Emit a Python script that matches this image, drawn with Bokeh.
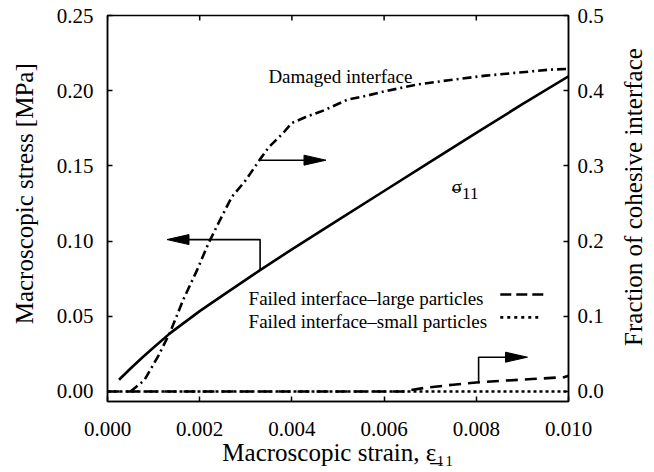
import math
from bokeh.plotting import figure
from bokeh.layouts import row
from bokeh.models import Range1d, LinearAxis, FixedTicker, PrintfTickFormatter
from bokeh.core.properties import value
from bokeh.embed import file_html
from bokeh.resources import INLINE

FONT = "Liberation Serif"

# ---------------- data ----------------
strain_ticks = [0.0, 0.002, 0.004, 0.006, 0.008, 0.010]
stress_ticks = [0.0, 0.05, 0.10, 0.15, 0.20, 0.25]
fraction_ticks = [0.0, 0.1, 0.2, 0.3, 0.4, 0.5]

sigma_strain = [0.00025, 0.0005, 0.00075, 0.0010, 0.00136, 0.0020, 0.0025, 0.00331,
                0.0040, 0.0050, 0.0060, 0.0070, 0.0080, 0.0090, 0.0100]
sigma_stress = [0.0078, 0.0153, 0.0224, 0.0292, 0.0388, 0.0534, 0.0639, 0.0807,
                0.0945, 0.1139, 0.1333, 0.1527, 0.1720, 0.1910, 0.2095]

damaged_strain = [0.0005, 0.0008, 0.0011, 0.00136, 0.00165, 0.00194, 0.00219, 0.00244,
                  0.0027, 0.0030, 0.0033, 0.0035, 0.0038, 0.0040, 0.0043, 0.0047, 0.0052,
                  0.0056, 0.0060, 0.0067, 0.0074, 0.0082, 0.0089, 0.0096, 0.0100]
damaged_fraction = [0.0, 0.015, 0.047, 0.079, 0.123, 0.161, 0.197, 0.228,
                    0.259, 0.281, 0.308, 0.325, 0.343, 0.357, 0.365, 0.374, 0.388,
                    0.393, 0.399, 0.408, 0.414, 0.420, 0.424, 0.428, 0.429]

large_strain = [0.0, 0.0064, 0.0069, 0.0075, 0.0080, 0.0085, 0.0092, 0.0099, 0.0100]
large_fraction = [0.0, 0.0, 0.005, 0.009, 0.012, 0.014, 0.0165, 0.019, 0.021]

small_strain = [0.0, 0.0100]
small_fraction = [0.0, 0.0]

x_title = "Macroscopic strain, \u03b5\u0332\u2081\u2081"
y_title = "Macroscopic stress [MPa]"
y2_title = "Fraction of cohesive interface"

TITLE_SIZE = "25px"

# ---------------- main figure ----------------
p = figure(width=570, height=472, output_backend="svg", toolbar_location=None,
           x_range=Range1d(0.0, 0.010), y_range=Range1d(-0.00667, 0.25),
           min_border_left=67, min_border_right=42, min_border_top=15, min_border_bottom=71,
           background_fill_color="white", border_fill_color="white")
p.extra_y_ranges = {"frac": Range1d(-0.01333, 0.5)}
p.grid.visible = False
p.outline_line_color = "black"
p.outline_line_width = 1.5

def style(ax, ticks, fmt):
    ax.ticker = FixedTicker(ticks=ticks)
    ax.formatter = PrintfTickFormatter(format=fmt)
    ax.major_tick_in = 5
    ax.major_tick_out = 0
    ax.minor_tick_line_color = None
    ax.axis_line_color = "black"
    ax.axis_line_width = 1.5
    ax.major_tick_line_color = "black"
    ax.major_tick_line_width = 1.5
    ax.major_label_text_font = FONT
    ax.major_label_text_font_size = "21px"
    ax.major_label_text_color = "black"
    ax.axis_label_text_font = FONT
    ax.axis_label_text_font_size = TITLE_SIZE
    ax.axis_label_text_font_style = "normal"
    ax.axis_label_text_color = "black"

xa = p.xaxis[0]
style(xa, strain_ticks, "%.3f")
xa.axis_label = x_title
xa.major_label_standoff = 20
xa.axis_label_standoff = 0

ya = p.yaxis[0]
style(ya, stress_ticks, "%.2f")
ya.major_label_standoff = 14

ra = LinearAxis(y_range_name="frac")
style(ra, fraction_ticks, "%.1f")
ra.major_label_standoff = 9
p.add_layout(ra, "right")

# inward ticks on the top edge of the frame, at the strain tick positions
top_y = 0.25
tick_len = 5.0 / 1503.0
p.segment(x0=strain_ticks, y0=[top_y] * len(strain_ticks),
          x1=strain_ticks, y1=[top_y - tick_len] * len(strain_ticks),
          line_color="black", line_width=1.5)

# ---------------- curves ----------------
p.line(sigma_strain, sigma_stress, line_color="black", line_width=2.6)
p.line(damaged_strain, damaged_fraction, y_range_name="frac", line_color="black",
       line_width=2.6, line_dash="9 4 2 4")
p.line(large_strain, large_fraction, y_range_name="frac", line_color="black",
       line_width=2.6, line_dash="12 7")
p.line(small_strain, small_fraction, y_range_name="frac", line_color="black",
       line_width=2.6, line_dash="3 3")

# ---------------- annotations ----------------
PX_X = 46100.0      # pixels per unit strain
PX_L = 1503.0       # pixels per unit stress
PX_R = 751.5        # pixels per unit fraction
HEAD_L = 22.0
HEAD_W = 5.0

def head(tip_x, y, direction, px_y, rng=None):
    bx = tip_x - direction * HEAD_L / PX_X
    xs = [tip_x, bx, bx]
    ys = [y, y + HEAD_W / px_y, y - HEAD_W / px_y]
    if rng:
        p.patch(xs, ys, y_range_name=rng, fill_color="black", line_color="black", line_width=1)
    else:
        p.patch(xs, ys, fill_color="black", line_color="black", line_width=1)

# arrow to the stress axis (left)
p.line([0.00331, 0.00331, 0.00160], [0.0805, 0.1010, 0.1010], line_color="black", line_width=1.6)
head(0.00129, 0.1010, -1, PX_L)
# arrow to fraction axis (damaged)
p.line([0.00331, 0.00440], [0.3076, 0.3076], y_range_name="frac", line_color="black", line_width=1.6)
head(0.00474, 0.3076, 1, PX_R, "frac")
# arrow to fraction axis (failed)
p.line([0.00805, 0.00805, 0.00880], [0.0110, 0.0456, 0.0456], y_range_name="frac",
       line_color="black", line_width=1.6)
head(0.00911, 0.0456, 1, PX_R, "frac")

def label(fig, x, y, s, size, baseline="alphabetic", **kw):
    fig.text(x=[x], y=[y], text=[s], text_font=value(FONT), text_font_size=value(size),
             text_color="black", text_baseline=baseline, **kw)

label(p, 0.00349, 0.2093, "Damaged interface", "19px", text_align="left")
label(p, 0.00747, 0.1365, "\u03c3", "19px", text_align="left")
label(p, 0.00769, 0.1319, "11", "17px", text_align="left")
p.line([0.00747, 0.00767], [0.1340, 0.1340], line_color="black", line_width=1.3)

label(p, 0.00306, 0.0616, "Failed interface\u2013large particles", "19px", text_align="left")
label(p, 0.00306, 0.0465, "Failed interface\u2013small particles", "19px", text_align="left")
p.line([0.00852, 0.00946], [0.0645, 0.0645], line_color="black", line_width=2.6, line_dash="11 5")
p.line([0.00852, 0.00942], [0.0493, 0.0493], line_color="black", line_width=2.6, line_dash="3 4")

# ---------------- side title strips (both read bottom to top) ----------------
def strip(w, tx, ty, s):
    f = figure(width=w, height=472, output_backend="svg", toolbar_location=None,
               x_range=Range1d(0, w), y_range=Range1d(0, 472),
               x_axis_location=None, y_axis_location=None,
               min_border_left=0, min_border_right=0, min_border_top=0, min_border_bottom=0,
               background_fill_color="white", border_fill_color="white")
    f.grid.visible = False
    f.outline_line_color = None
    label(f, tx, ty, s, TITLE_SIZE, baseline="middle", text_align="center", angle=math.pi / 2)
    return f

left_strip = strip(40, 24.0, 254.0, y_title)
right_strip = strip(44, 23.0, 250.0, y2_title)

layout = row(left_strip, p, right_strip, spacing=0)
open("out.html", "w").write(file_html(layout, INLINE))
